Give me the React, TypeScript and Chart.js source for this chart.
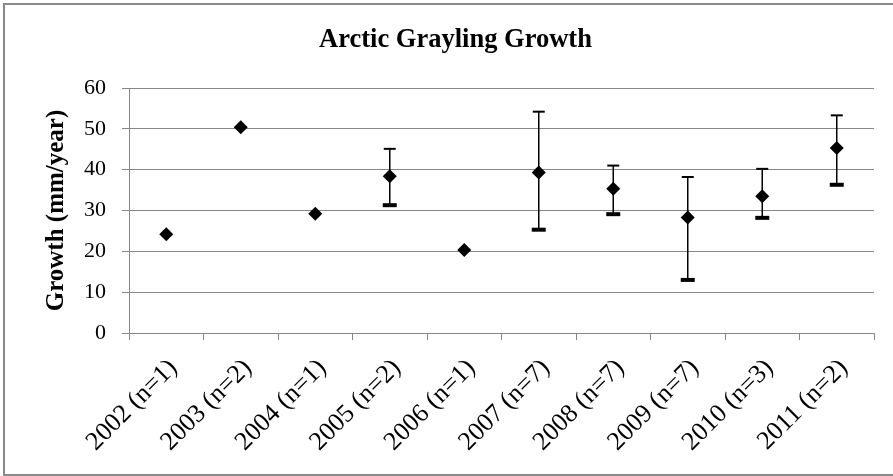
import React, { useEffect, useRef } from 'react';
import { Chart, registerables } from 'chart.js';

Chart.register(...registerables);

const categories = [
  '2002 (n=1)', '2003 (n=2)', '2004 (n=1)', '2005 (n=2)', '2006 (n=1)',
  '2007 (n=7)', '2008 (n=7)', '2009 (n=7)', '2010 (n=3)', '2011 (n=2)',
];
const meanGrowth = [24.2, 50.4, 29.2, 38.4, 20.3, 39.3, 35.3, 28.3, 33.5, 45.3];
const errorUpper = [null, null, null, 45.1, null, 54.2, 41.0, 38.2, 40.2, 53.3];
const errorLower = [null, null, null, 31.3, null, 25.3, 29.1, 13.0, 28.2, 36.3];
const yMin = 0;
const yMax = 60;
const yStep = 10;

const chartTitle = 'Arctic Grayling Growth';
const yAxisTitle = 'Growth (mm/year)';

const GRID = '#878787';
const FONT = "'Liberation Serif', 'Times New Roman', serif";

const errorBarPlugin = {
  id: 'errorBars',
  beforeDatasetsDraw(chart: any) {
    const ctx = chart.ctx;
    const xs = chart.scales.x;
    const ys = chart.scales.y;
    ctx.save();
    ctx.strokeStyle = '#000';
    for (let i = 0; i < categories.length; i++) {
      const up = errorUpper[i];
      const lo = errorLower[i];
      if (up == null || lo == null) continue;
      const x = xs.getPixelForValue(i);
      const yUp = ys.getPixelForValue(up);
      const yLo = ys.getPixelForValue(lo);
      ctx.lineWidth = 1.5;
      ctx.beginPath();
      ctx.moveTo(x, yUp);
      ctx.lineTo(x, yLo);
      ctx.stroke();
      ctx.lineWidth = 2;
      ctx.beginPath();
      ctx.moveTo(x - 6, yUp);
      ctx.lineTo(x + 6, yUp);
      ctx.stroke();
      ctx.lineWidth = 4;
      ctx.beginPath();
      ctx.moveTo(x - 7, yLo);
      ctx.lineTo(x + 7, yLo);
      ctx.stroke();
    }
    ctx.restore();
  },
};

export default function App() {
  const canvasRef = useRef<HTMLCanvasElement | null>(null);

  useEffect(() => {
    const canvas = canvasRef.current;
    if (!canvas) return;
    const chart = new Chart(canvas, {
      type: 'line',
      data: {
        labels: categories,
        datasets: [
          {
            label: 'Growth',
            data: meanGrowth,
            showLine: false,
            pointStyle: 'rectRot',
            pointRadius: 7,
            pointHoverRadius: 7,
            pointBackgroundColor: '#000',
            pointBorderColor: '#000',
            pointBorderWidth: 0,
          },
        ],
      },
      options: {
        responsive: false,
        animation: false,
        devicePixelRatio: 1,
        layout: { padding: { left: 18, right: 0, top: 0, bottom: 0 } },
        plugins: {
          legend: { display: false },
          tooltip: { enabled: false },
          title: {
            display: true,
            text: chartTitle,
            color: '#000',
            font: { family: FONT, size: 26.5, weight: 'bold', lineHeight: 1.2 },
            padding: { top: 24, bottom: 32.2 },
          },
        },
        scales: {
          x: {
            type: 'category',
            offset: true,
            grid: {
              offset: true,
              drawOnChartArea: false,
              drawTicks: true,
              tickLength: 7,
              color: GRID,
              lineWidth: 1,
            },
            border: { display: true, color: GRID, width: 1 },
            ticks: {
              autoSkip: false,
              maxRotation: 45,
              minRotation: 45,
              padding: 13,
              labelOffset: 7,
              color: '#000',
              font: { family: FONT, size: 26 },
            },
            afterFit: (s: any) => {
              s.height = 143;
            },
          },
          y: {
            min: yMin,
            max: yMax,
            position: 'left',
            grid: {
              color: GRID,
              lineWidth: 1,
              tickLength: 7,
              drawTicks: true,
            },
            border: { display: true, color: GRID, width: 1 },
            ticks: {
              stepSize: yStep,
              padding: 16,
              color: '#000',
              font: { family: FONT, size: 22 },
            },
            title: {
              display: true,
              text: yAxisTitle,
              color: '#000',
              font: { family: FONT, size: 25, weight: 'bold', lineHeight: 1.2 },
              padding: { top: 24, bottom: 0 },
            },
            afterFit: (s: any) => {
              s.width = 111;
            },
          },
          y2: {
            position: 'right',
            display: true,
            grid: { display: false, drawTicks: false },
            border: { display: false },
            ticks: { display: false },
            afterFit: (s: any) => {
              s.width = 19;
            },
          },
        },
      },
      plugins: [errorBarPlugin],
    });
    return () => chart.destroy();
  }, []);

  return (
    <div style={{ position: 'absolute', left: 0, top: 0, width: 893, height: 476, overflow: 'hidden', background: '#fff' }}>
      <canvas ref={canvasRef} width={893} height={476} style={{ position: 'absolute', left: 0, top: 0, width: 893, height: 476 }} />
      <div
        style={{
          position: 'absolute',
          left: 3,
          top: 3,
          width: 910,
          height: 473,
          boxSizing: 'border-box',
          border: '2px solid #8a8a8a',
          pointerEvents: 'none',
        }}
      />
    </div>
  );
}
